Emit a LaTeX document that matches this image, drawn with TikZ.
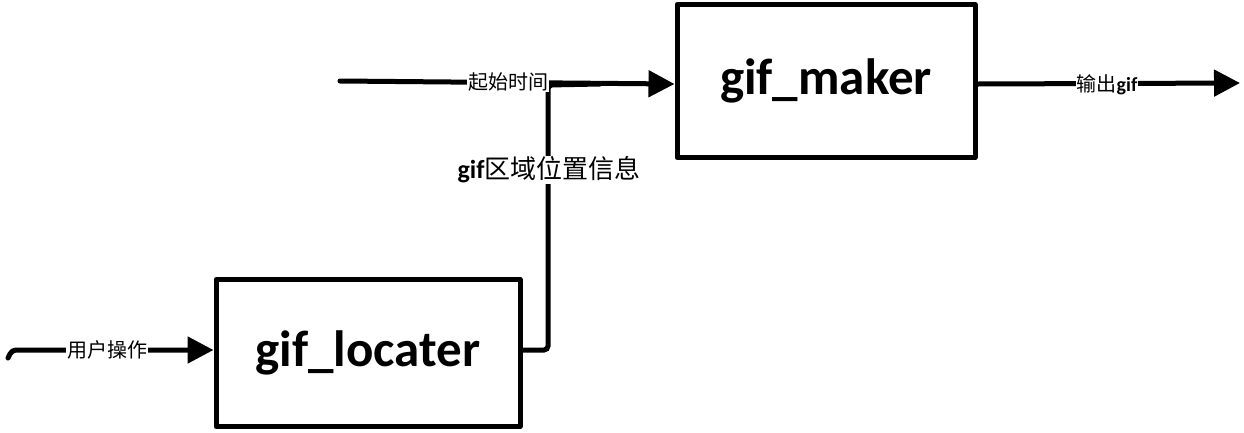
\documentclass[tikz,border=0pt]{standalone}
\usepackage{fontspec}
\setmainfont{Carlito}
\newfontfamily\cjk{Noto Sans CJK SC}
\usetikzlibrary{arrows.meta}
\tikzset{
  blk/.style={draw=black, line width=5pt, line join=round, minimum width=#1, inner sep=0pt, font=\fontsize{51}{54}\selectfont\bfseries},
  conn/.style={line width=5pt, line cap=round, rounded corners=4pt, -{Triangle[length=26pt,width=26pt]}},
  plain/.style={line width=5pt, line cap=round, rounded corners=4pt},
  lbl/.style={fill=white, inner sep=1pt, font=\fontsize{20}{23}\selectfont}
}
\begin{document}
\begin{tikzpicture}[x=1pt,y=-1pt]
\useasboundingbox (0,0) rectangle (1244,432);
\node[blk=298pt, minimum height=153pt] (maker) at (826,81) {gif\_maker};
\node[blk=304pt, minimum height=147pt] (loc) at (368,353) {gif\_locater};
\coordinate (s1) at (340,81);
\coordinate (s2) at (8,358);
\coordinate (e1) at (1240,83);
\coordinate (j1) at (548,350);
\coordinate (j2) at (548,85);
% start time
\draw[conn] (s1) -- (maker.west |- 0,84);
% user operation
\draw[conn] (s2) -- (12,350) -- (loc.west |- 0,350);
% region info
\draw[plain] (loc.east |- 0,350) -- (j1) -- (j2) -- (600,84);
% output
\draw[conn] (maker.east |- 0,84) -- (e1);
\node[lbl] (t1) at (508,82) {\cjk 起始时间};
\node[lbl] (t2) at (107,350) {\cjk 用户操作};
\node[lbl] (t3) at (1107,85) {{\cjk 输出}\textbf{gif}};
\node[lbl, font=\fontsize{26}{30}\selectfont] (t4) at (549,170) {\textbf{gif}{\cjk 区域位置信息}};
\end{tikzpicture}
\end{document}
